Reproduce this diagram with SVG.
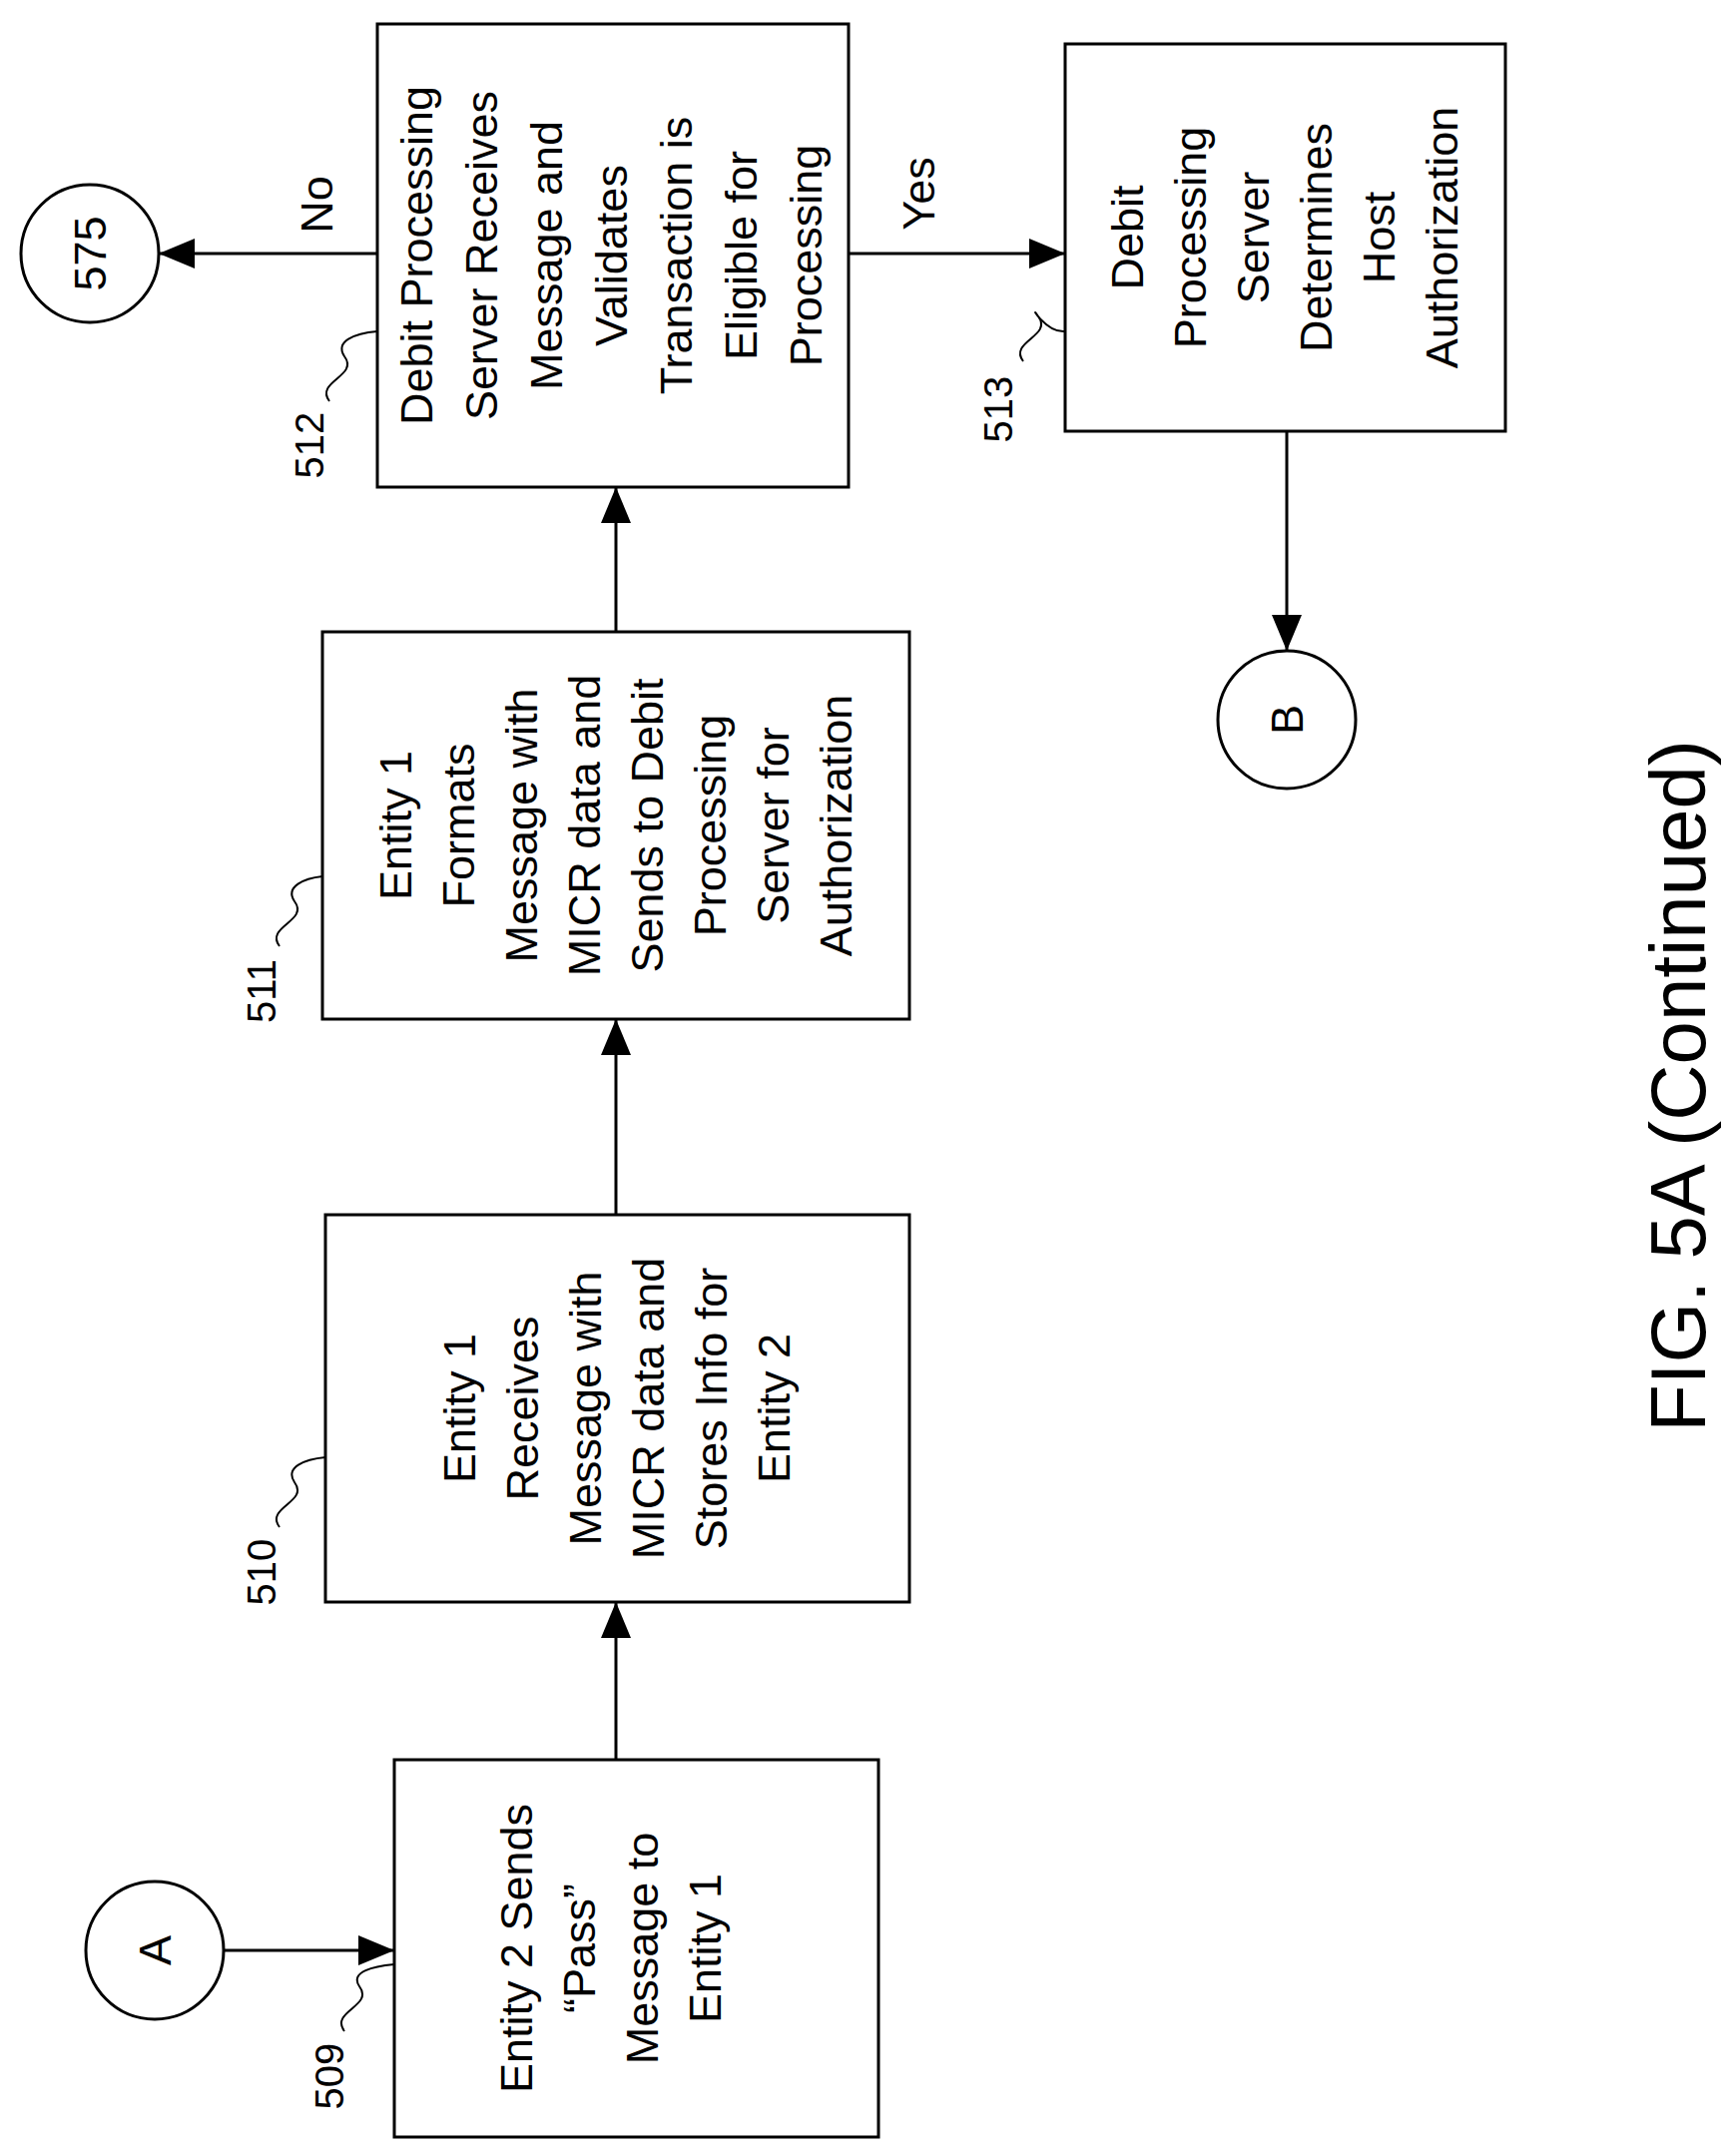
<svg xmlns="http://www.w3.org/2000/svg" width="1734" height="2160" viewBox="0 0 1734 2160">
<style>
.b{fill:#fff;stroke:#000;stroke-width:3}
.t{font-family:"Liberation Sans",Arial,sans-serif;font-size:45px;text-anchor:middle;fill:#000}
.r{font-family:"Liberation Sans",Arial,sans-serif;font-size:40px;text-anchor:middle;fill:#000}
.c{fill:none;stroke:#000;stroke-width:3}
.l{fill:none;stroke:#000;stroke-width:2}
</style>
<defs>
<marker id="ah" viewBox="0 0 36 30" refX="36" refY="15" markerWidth="36" markerHeight="30" orient="auto" markerUnits="userSpaceOnUse"><path d="M0,0 L36,15 L0,30 z"/></marker></defs>
<g id="connectors">
<line class="c" x1="225" y1="1954" x2="395" y2="1954" marker-end="url(#ah)"/>
<line class="c" x1="617" y1="1763" x2="617" y2="1605" marker-end="url(#ah)"/>
<line class="c" x1="617" y1="1217" x2="617" y2="1021" marker-end="url(#ah)"/>
<line class="c" x1="617" y1="633" x2="617" y2="488" marker-end="url(#ah)"/>
<line class="c" x1="378" y1="254" x2="159" y2="254" marker-end="url(#ah)"/>
<line class="c" x1="850" y1="254" x2="1067" y2="254" marker-end="url(#ah)"/>
<line class="c" x1="1289" y1="432" x2="1289" y2="652" marker-end="url(#ah)"/>
<text class="t" transform="rotate(-90 333 205)" x="333" y="205">No</text>
<text class="t" transform="rotate(-90 936 194)" x="936" y="194">Yes</text>
</g>
<g id="A"><circle class="c" cx="155" cy="1954" r="69"/><text class="t" transform="rotate(-90 155 1954)" x="155" y="1970">A</text></g>
<g id="c575"><circle class="c" cx="90" cy="254" r="69"/><text class="t" transform="rotate(-90 90 254)" x="90" y="270">575</text></g>
<g id="B"><circle class="c" cx="1289" cy="721" r="69"/><text class="t" transform="rotate(-90 1289 721)" x="1289" y="737">B</text></g>
<g id="n509"><rect class="b" x="395" y="1763" width="485" height="378"/>
<text class="t" transform="rotate(-90 612 1952)" x="612" y="1873"><tspan x="612" dy="0">Entity 2 Sends</tspan><tspan x="612" dy="63">“Pass”</tspan><tspan x="612" dy="63">Message to</tspan><tspan x="612" dy="63">Entity 1</tspan></text>
<text class="r" transform="rotate(-90 330 2080)" x="330" y="2094">509</text>
<path class="l" d="M345,2035 C330,2015 375,2010 360,1990 C350,1975 375,1970 395,1968"/></g>
<g id="n510"><rect class="b" x="326" y="1217" width="585" height="388"/>
<text class="t" transform="rotate(-90 618 1411)" x="618" y="1269"><tspan x="618" dy="0">Entity 1</tspan><tspan x="618" dy="63">Receives</tspan><tspan x="618" dy="63">Message with</tspan><tspan x="618" dy="63">MICR data and</tspan><tspan x="618" dy="63">Stores Info for</tspan><tspan x="618" dy="63">Entity 2</tspan></text>
<text class="r" transform="rotate(-90 262 1575)" x="262" y="1589">510</text>
<path class="l" d="M280,1530 C265,1510 310,1505 295,1485 C285,1470 305,1462 326,1460"/></g>
<g id="n511"><rect class="b" x="323" y="633" width="588" height="388"/>
<text class="t" transform="rotate(-90 617 827)" x="617" y="622"><tspan x="617" dy="0">Entity 1</tspan><tspan x="617" dy="63">Formats</tspan><tspan x="617" dy="63">Message with</tspan><tspan x="617" dy="63">MICR data and</tspan><tspan x="617" dy="63">Sends to Debit</tspan><tspan x="617" dy="63">Processing</tspan><tspan x="617" dy="63">Server for</tspan><tspan x="617" dy="63">Authorization</tspan></text>
<text class="r" transform="rotate(-90 262 993)" x="262" y="1007">511</text>
<path class="l" d="M280,948 C265,928 310,923 295,903 C285,888 305,880 323,878"/></g>
<g id="n512"><rect class="b" x="378" y="24" width="472" height="464"/>
<text class="t" transform="rotate(-90 606 256)" x="606" y="83"><tspan x="606" dy="0">Debit Processing</tspan><tspan x="606" dy="65">Server Receives</tspan><tspan x="606" dy="65">Message and</tspan><tspan x="606" dy="65">Validates</tspan><tspan x="606" dy="65">Transaction is</tspan><tspan x="606" dy="65">Eligible for</tspan><tspan x="606" dy="65">Processing</tspan></text>
<text class="r" transform="rotate(-90 310 446)" x="310" y="460">512</text>
<path class="l" d="M330,402 C315,382 360,377 345,357 C335,342 355,334 378,332"/></g>
<g id="n513"><rect class="b" x="1067" y="44" width="441" height="388"/>
<text class="t" transform="rotate(-90 1287 238)" x="1287" y="96"><tspan x="1287" dy="0">Debit</tspan><tspan x="1287" dy="63">Processing</tspan><tspan x="1287" dy="63">Server</tspan><tspan x="1287" dy="63">Determines</tspan><tspan x="1287" dy="63">Host</tspan><tspan x="1287" dy="63">Authorization</tspan></text>
<text class="r" transform="rotate(-90 1000 410)" x="1000" y="424">513</text>
<path class="l" d="M1025,362 C1010,342 1055,337 1040,317 C1030,302 1047,334 1067,332"/></g>
<text x="1708" y="1088" transform="rotate(-90 1708 1088)" style="font-family:'Liberation Sans',Arial,sans-serif;font-size:78px;text-anchor:middle">FIG. 5A (Continued)</text>
</svg>
